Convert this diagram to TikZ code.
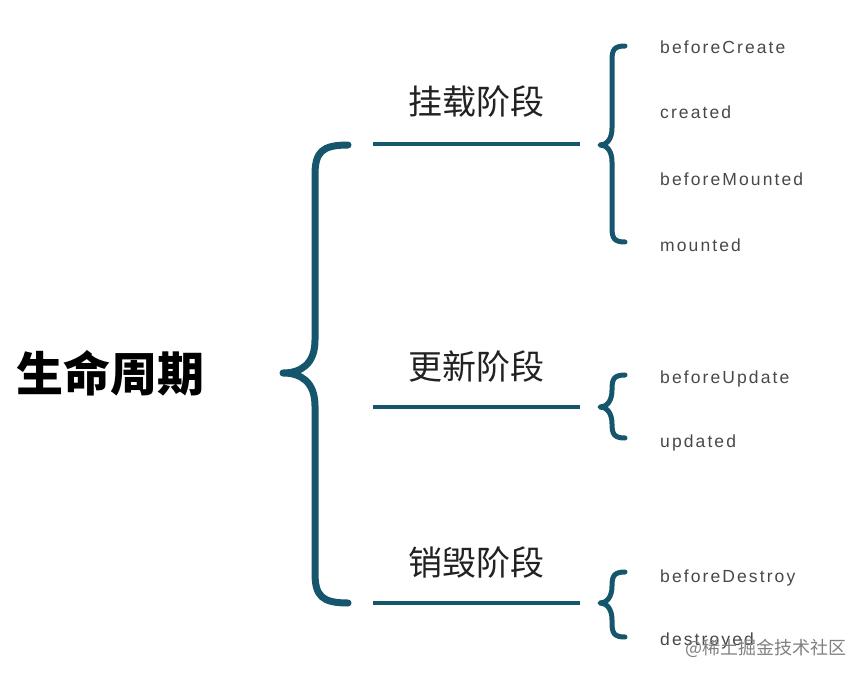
\documentclass[tikz,border=0pt]{standalone}
\usepackage{fontspec}
\usepackage{xcolor}
\usepackage{tikz}
\usetikzlibrary{positioning}
\setmainfont{Liberation Sans}
\newfontfamily\cjk{Noto Sans CJK SC}
\newfontfamily\hookfont[LetterSpace=12]{Liberation Sans}
\definecolor{braceTeal}{RGB}{22,86,108}
\definecolor{inkDark}{RGB}{34,34,34}
\definecolor{hookGray}{RGB}{72,72,72}
\definecolor{markGray}{RGB}{128,128,128}
\tikzset{
  bigBrace/.style={draw=braceTeal, line width=7bp, line cap=round, line join=round},
  smallBrace/.style={draw=braceTeal, line width=5bp, line cap=round, line join=round},
  stageLine/.style={draw=braceTeal, line width=4bp},
  stageLabel/.style={anchor=base, inner sep=0pt, text=inkDark,
    font=\cjk\fontsize{34bp}{40bp}\selectfont},
  hookText/.style={anchor=base west, inner sep=0pt, text=hookGray,
    font=\hookfont\fontsize{17.5bp}{21bp}\selectfont}
}
\begin{document}
\begin{tikzpicture}[x=1bp, y=-1bp]
  \useasboundingbox (0,0) rectangle (867,677);
  % title
  \node[anchor=base west, inner sep=0pt, text=black,
        font=\cjk\bfseries\fontsize{47bp}{52bp}\selectfont] (life) at (16,391) {生命周期};
  % big brace
  \draw[bigBrace] (348,145) .. controls (322,145) and (315,152) .. (315,175)
    -- (315,340) .. controls (315,364) and (301,373) .. (283,373)
    .. controls (301,373) and (315,382) .. (315,406)
    -- (315,573) .. controls (315,596) and (322,603) .. (348,603);
  % stages
  \node[stageLabel] (mount) at (476.5,115) {挂载阶段};
  \node[stageLabel] (update) at (476.5,379) {更新阶段};
  \node[stageLabel] (destroy) at (476.5,575) {销毁阶段};
  \coordinate (m1) at (373,144); \coordinate (m2) at (580,144);
  \coordinate (u1) at (373,407); \coordinate (u2) at (580,407);
  \coordinate (d1) at (373,603); \coordinate (d2) at (580,603);
  \draw[stageLine] (m1) -- (m2);
  \draw[stageLine] (u1) -- (u2);
  \draw[stageLine] (d1) -- (d2);
  % small braces
  \foreach \t/\m/\b in {46/145/242, 375/407/438, 572/603/637} {
    \draw[smallBrace] (625,\t) .. controls (614,\t) and (612,\t+4) .. (612,\t+14)
      -- (612,\m-17) .. controls (612,\m-5) and (606,\m) .. (600,\m)
      .. controls (606,\m) and (612,\m+5) .. (612,\m+17)
      -- (612,\b-14) .. controls (612,\b-4) and (614,\b) .. (625,\b);
  }
  % hooks
  \node[hookText] (bc) at (660,54) {beforeCreate};
  \node[hookText] (cr) at (660,119) {created};
  \node[hookText] (bm) at (660,185) {beforeMounted};
  \node[hookText] (mo) at (660,251) {mounted};
  \node[hookText] (bu) at (660,383) {beforeUpdate};
  \node[hookText] (up) at (660,447) {updated};
  \node[hookText] (bd) at (660,582) {beforeDestroy};
  \node[hookText] (de) at (660,645) {destroyed};
  % watermark
  \node[anchor=base west, inner sep=0pt, text=markGray,
        font=\cjk\fontsize{18bp}{22bp}\selectfont] (mark) at (685,654) {@稀土掘金技术社区};
\end{tikzpicture}
\end{document}
